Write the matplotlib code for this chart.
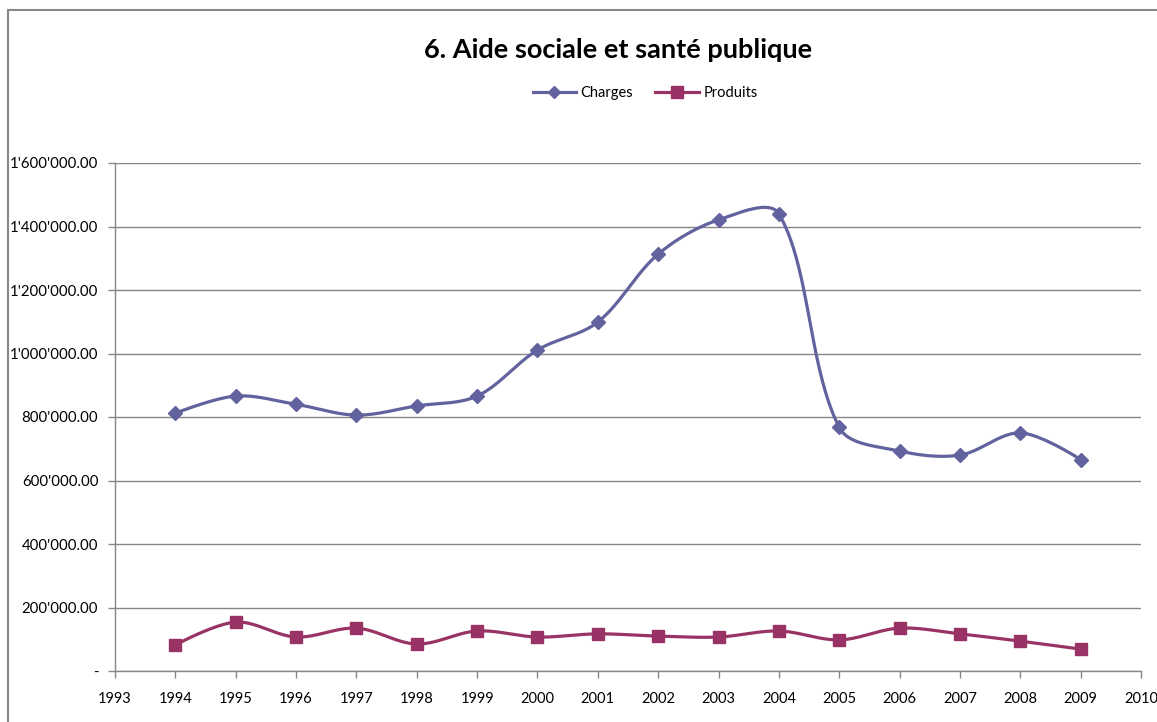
import matplotlib
matplotlib.use("Agg")
import matplotlib.pyplot as plt
import numpy as np
from matplotlib.patches import Rectangle
from matplotlib.lines import Line2D

years = [1994, 1995, 1996, 1997, 1998, 1999, 2000, 2001, 2002, 2003, 2004, 2005, 2006, 2007, 2008, 2009]
charges = [812000, 866000, 840000, 806000, 835000, 866000, 1011000, 1099000, 1313000, 1421000, 1440000,
           767000, 693000, 680000, 750000, 666000]
produits = [82000, 154000, 107000, 135000, 85000, 126000, 107000, 117000, 110000, 107000, 126000,
            98000, 135000, 117000, 94000, 69000]

yticks = [0, 200000, 400000, 600000, 800000, 1000000, 1200000, 1400000, 1600000]
xticks = list(range(1993, 2011))

plt.rcParams['font.family'] = ['Lato', 'DejaVu Sans']

# pixel scales of the plot area (for the smoothing geometry)
SX = 1026 / 17.0
SY = 508 / 1600000.0


def smooth(x, y, n=40):
    P = np.column_stack([np.asarray(x, float) * SX, np.asarray(y, float) * SY])
    out = [P[0]]
    m = len(P)
    for i in range(m - 1):
        p0 = P[i - 1] if i > 0 else P[i]
        p1 = P[i]
        p2 = P[i + 1]
        p3 = P[i + 2] if i + 2 < m else P[i + 1]
        d01 = np.linalg.norm(p1 - p0)
        d12 = np.linalg.norm(p2 - p1)
        d23 = np.linalg.norm(p3 - p2)
        f1 = d12 / (d01 + d12) / 3.0 if d01 > 0 else 0.0
        f2 = d12 / (d12 + d23) / 3.0 if d23 > 0 else 0.0
        c1 = p1 + (p2 - p0) * f1
        c2 = p2 - (p3 - p1) * f2
        t = np.linspace(0, 1, n)[1:, None]
        seg = ((1 - t) ** 3) * p1 + 3 * ((1 - t) ** 2) * t * c1 + 3 * (1 - t) * t ** 2 * c2 + t ** 3 * p2
        out.extend(seg)
    out = np.array(out)
    return out[:, 0] / SX, out[:, 1] / SY


def fmt(v):
    if v == 0:
        return "-"
    return f"{v:,.2f}".replace(",", "'")


fig = plt.figure(figsize=(11.57, 7.22), dpi=100)
ax = fig.add_axes([115 / 1157, 51 / 722, (1141 - 115) / 1157, (671 - 163) / 722])

c_col = '#62629E'
p_col = '#993366'

sx, sy = smooth(years, charges)
ax.plot(sx, sy, color=c_col, lw=2.3, zorder=3)
ax.plot(years, charges, linestyle='none', marker='D', markersize=7.5, color=c_col, zorder=4)
px, py = smooth(years, produits)
ax.plot(px, py, color=p_col, lw=2.3, zorder=3)
ax.plot(years, produits, linestyle='none', marker='s', markersize=9, color=p_col, zorder=4)

ax.set_xlim(1993, 2010)
ax.set_ylim(0, 1600000)
ax.set_xticks(xticks)
ax.set_xticklabels([str(x) for x in xticks], fontsize=10.5)
ax.set_yticks(yticks)
ax.set_yticklabels([fmt(v) for v in yticks], fontsize=10.8)
ax.yaxis.grid(True, color='#868686', lw=1)
ax.set_axisbelow(True)
for s in ['top', 'right']:
    ax.spines[s].set_visible(False)
for s in ['left', 'bottom']:
    ax.spines[s].set_color('#868686')
    ax.spines[s].set_linewidth(1)
ax.tick_params(axis='both', direction='out', length=5, color='#868686', width=1)
ax.tick_params(axis='y', pad=7)
ax.tick_params(axis='x', pad=10)

fig.text(618 / 1157, 1 - 50 / 722, "6. Aide sociale et santé publique", fontsize=19.5, fontweight='bold',
         ha='center', va='center')

handles = [Line2D([], [], color=c_col, lw=2.3, marker='D', markersize=6.5),
           Line2D([], [], color=p_col, lw=2.3, marker='s', markersize=8)]
fig.legend(handles, ['Charges', 'Produits'], loc='center', bbox_to_anchor=(645 / 1157, 1 - 93 / 722),
           ncol=2, frameon=False, fontsize=10.5, handlelength=3, columnspacing=1.5, handletextpad=0.3)

fig.patches.append(Rectangle((8 / 1157, -0.1), 1.2, 1.1 - 10 / 722, transform=fig.transFigure,
                             fill=False, edgecolor='#888888', lw=1.5, zorder=-1))

fig.savefig("out.png", dpi=100)
